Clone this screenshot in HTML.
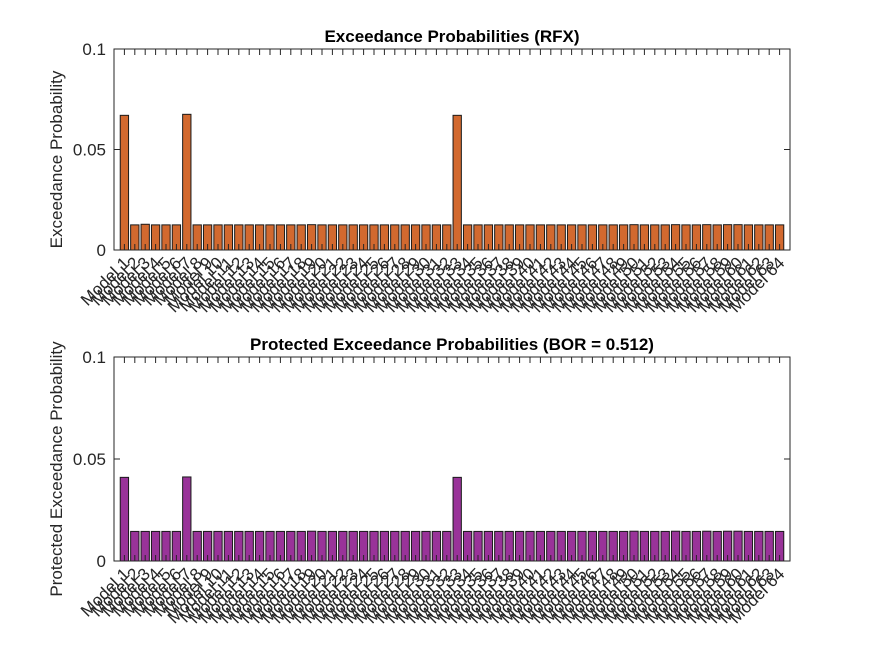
<!DOCTYPE html>
<html><head><meta charset="utf-8"><style>body{margin:0;background:#fff}text{font-family:"Liberation Sans",Arial,sans-serif}</style></head>
<body>
<svg id="fig" width="875" height="656" xmlns="http://www.w3.org/2000/svg"></svg>
<script>
const categories = Array.from({length:64},(_,i)=>'Model '+(i+1));
const epValues = [0.067,0.0125,0.0128,0.0125,0.0125,0.0125,0.0675,0.0125,0.0125,0.0125,0.0125,0.0125,0.0125,0.0125,0.0125,0.0125,0.0125,0.0125,0.0126,0.0125,0.0125,0.0125,0.0125,0.0125,0.0125,0.0125,0.0125,0.0125,0.0125,0.0125,0.0125,0.0125,0.067,0.0125,0.0125,0.0125,0.0125,0.0125,0.0125,0.0125,0.0125,0.0125,0.0125,0.0125,0.0125,0.0125,0.0125,0.0125,0.0125,0.0126,0.0125,0.0125,0.0125,0.0126,0.0125,0.0125,0.0126,0.0125,0.0126,0.0126,0.0125,0.0125,0.0125,0.0125];
const pepValues = [0.041,0.0145,0.0145,0.0145,0.0145,0.0145,0.0412,0.0145,0.0145,0.0145,0.0145,0.0145,0.0145,0.0145,0.0145,0.0145,0.0145,0.0145,0.0146,0.0145,0.0145,0.0145,0.0145,0.0145,0.0145,0.0145,0.0145,0.0145,0.0145,0.0145,0.0145,0.0145,0.041,0.0145,0.0145,0.0145,0.0145,0.0145,0.0145,0.0145,0.0145,0.0145,0.0145,0.0145,0.0145,0.0145,0.0145,0.0145,0.0145,0.0146,0.0145,0.0145,0.0145,0.0146,0.0145,0.0145,0.0146,0.0145,0.0146,0.0146,0.0145,0.0145,0.0145,0.0145];
const yTicks = [0,0.05,0.1];
const yTickLabels = ['0','0.05','0.1'];
const NS='http://www.w3.org/2000/svg', svg=document.getElementById('fig');
function mk(t,a,p){const e=document.createElementNS(NS,t);for(const k in a)e.setAttribute(k,a[k]);(p||svg).appendChild(e);return e;}
function panel(name,vals,top,bottom,color,title,ylabel){
  const L=114,R=790;
  const g=mk('g',{});
  
  
  const x=v=>L+(v)/(categories.length+1)*(R-L);
  const y=v=>bottom-v/0.1*(bottom-top);
  const bw=0.8*(R-L)/(categories.length+1);
  vals.forEach((v,i)=>{
    const r=mk('rect',{x:x(i+1)-bw/2,y:y(v),width:bw,height:bottom-y(v),fill:color,stroke:'#1a1a1a','stroke-width':1},g);
    
    
  });
  const ax=mk('rect',{x:L,y:top,width:R-L,height:bottom-top,fill:'none',stroke:'#262626','stroke-width':1},g);
  
  
  categories.forEach((c,i)=>{
    const xx=x(i+1);
    mk('line',{x1:xx,x2:xx,y1:bottom,y2:bottom-6,stroke:'#262626'},g);
    mk('line',{x1:xx,x2:xx,y1:top,y2:top+6,stroke:'#262626'},g);
    const t=mk('text',{x:xx+6,y:bottom+14,'font-size':17,fill:'#262626','text-anchor':'end',transform:`rotate(-45 ${xx+6} ${bottom+14})`},g);
    t.textContent=c;
    
    
  });
  yTicks.forEach((v,i)=>{
    const yy=y(v);
    mk('line',{x1:L,x2:L+6,y1:yy,y2:yy,stroke:'#262626'},g);
    mk('line',{x1:R,x2:R-6,y1:yy,y2:yy,stroke:'#262626'},g);
    const t=mk('text',{x:L-8,y:yy+6,'font-size':17,fill:'#262626','text-anchor':'end'},g);
    t.textContent=yTickLabels[i];
    
    
  });
  const tt=mk('text',{x:(L+R)/2,y:top-7,'font-size':17,'font-weight':'bold',fill:'#000','text-anchor':'middle'},g);
  tt.textContent=title;
  
  
  const yl=mk('text',{x:62,y:(top+bottom)/2+10,'font-size':17,fill:'#262626','text-anchor':'middle',transform:`rotate(-90 62 ${(top+bottom)/2+10})`},g);
  yl.textContent=ylabel;
  
  
}
panel('ep-panel',epValues,49,250,'#D2692F','Exceedance Probabilities (RFX)','Exceedance Probability');
panel('pep-panel',pepValues,357,561,'#993399','Protected Exceedance Probabilities (BOR = 0.512)','Protected Exceedance Probability');
</script>
</body></html>
